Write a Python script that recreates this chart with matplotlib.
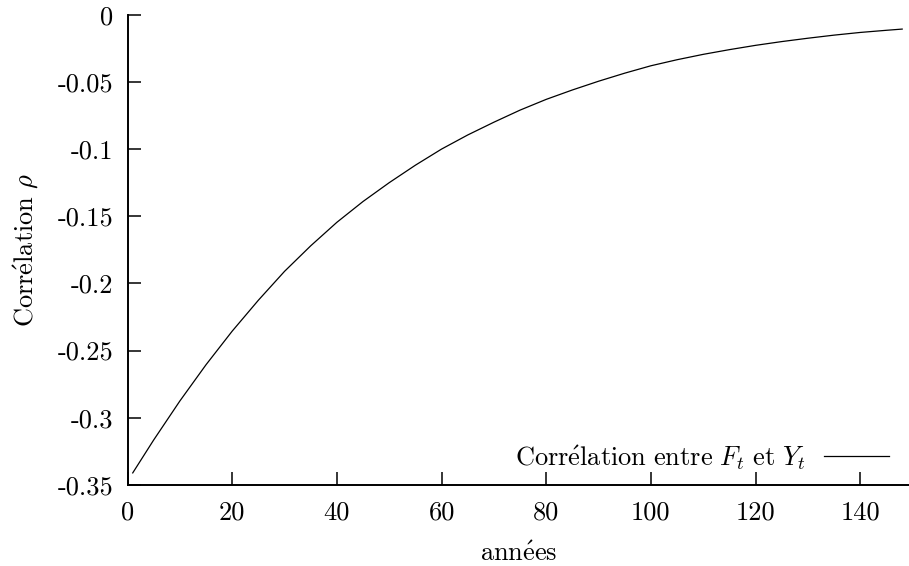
import numpy as np
import matplotlib
matplotlib.use("Agg")
import matplotlib.pyplot as plt

plt.rcParams['mathtext.fontset'] = 'cm'
plt.rcParams['font.family'] = ['cmr10', 'DejaVu Serif']
plt.rcParams['axes.unicode_minus'] = False

# valeurs
annees = [1, 5, 10, 15, 20, 25, 30, 35, 40, 45, 50, 55, 60, 65, 70, 75,
          80, 85, 90, 95, 100, 105, 110, 115, 120, 125, 130, 135, 140, 145, 148]
correlation = [-0.341, -0.3165, -0.2875, -0.2605, -0.2355, -0.2125, -0.191, -0.172,
               -0.1545, -0.139, -0.125, -0.112, -0.100, -0.0895, -0.080, -0.071,
               -0.063, -0.056, -0.0495, -0.0435, -0.038, -0.0335, -0.0295,
               -0.026, -0.0228, -0.020, -0.0175, -0.0152, -0.0132, -0.0116, -0.0107]

xticks = [0, 20, 40, 60, 80, 100, 120, 140]
yticks = [0, -0.05, -0.1, -0.15, -0.2, -0.25, -0.3, -0.35]
ytick_labels = ['0', '-0.05', '-0.1', '-0.15', '-0.2', '-0.25', '-0.3', '-0.35']

fs = 19
fig = plt.figure(figsize=(9.09, 5.66), dpi=100)
ax = fig.add_axes([127.5 / 909, 1 - 485 / 566, 1 - 127.5 / 909, (485 - 14.7) / 566])

ax.plot(annees, correlation, color='black', lw=0.9,
        label=r'$\mathrm{Corr\acute{e}lation\ entre}\ F_t\ \mathrm{et}\ Y_t$')

ax.set_xlim(0, 149.3)
ax.set_ylim(-0.35, 0)
ax.set_xticks(xticks)
ax.set_xticklabels([str(v) for v in xticks])
ax.set_yticks(yticks)
ax.set_yticklabels(ytick_labels)

for s in ['top', 'right']:
    ax.spines[s].set_visible(False)
for s in ['left', 'bottom']:
    ax.spines[s].set_linewidth(1.4)
ax.tick_params(direction='in', length=9.5, width=1.1, labelsize=fs)
ax.tick_params(axis='x', pad=11)
ax.tick_params(axis='y', pad=10)
ax.set_xlabel(r'$\mathrm{ann\acute{e}es}$', fontsize=fs, labelpad=13)
ax.set_ylabel(r'$\mathrm{Corr\acute{e}lation}\ \rho$', fontsize=fs, labelpad=12)

ax.legend(loc='center right', bbox_to_anchor=(0.974, 0.058), frameon=False,
          markerfirst=False, handlelength=2.45, borderpad=0, borderaxespad=0,
          handletextpad=0.7, fontsize=fs)

fig.savefig('out.png', dpi=100)
